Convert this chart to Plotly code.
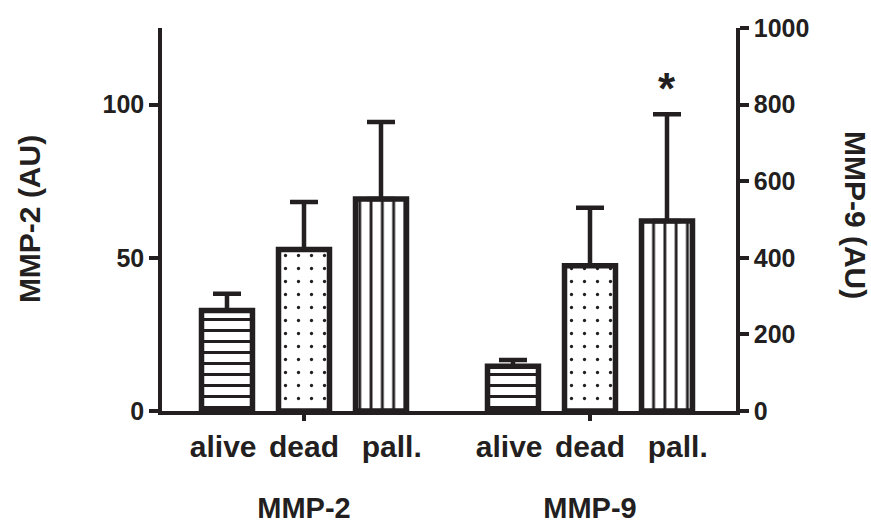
import plotly.graph_objects as go

# ---- data ----
groups = ["MMP-2", "MMP-9"]
categories = ["alive", "dead", "pall."]
mmp2_mean = [32.8, 52.7, 69.2]
mmp2_err = [5.5, 15.5, 25.1]
mmp9_mean = [117, 379, 496]
mmp9_err = [16, 152, 279]
mmp9_sig = ["", "", "*"]
left_ticks = [0, 50, 100]
right_ticks = [0, 200, 400, 600, 800, 1000]
left_title = "MMP-2 (AU)"
right_title = "MMP-9 (AU)"

# ---- style / layout ----
INK = "#231f20"
FAM = "Liberation Sans, Arial, sans-serif"
GROUP_STEP = 3.714
BAR_W = 0.662
XR = [-0.844, 6.61]
LABEL_NUDGE = [-0.05, 0.0, 0.14]   # small horizontal nudges of category labels (axis units)


def xpos(g):
    return [g * GROUP_STEP + i for i in range(len(categories))]


pattern = dict(
    shape=["-", ".", "|"],
    size=[11, 13, 11.3],
    solidity=[0.27, 0.05, 0.25],
    fgcolor=INK,
    bgcolor="white",
    fillmode="replace",
)

fig = go.Figure()
for g, (means, errs, yax) in enumerate([(mmp2_mean, mmp2_err, "y"), (mmp9_mean, mmp9_err, "y2")]):
    fig.add_trace(go.Bar(
        x=xpos(g), y=means, yaxis=yax, width=BAR_W,
        marker=dict(color="white", line=dict(color=INK, width=5.5), pattern=pattern),
        error_y=dict(type="data", symmetric=False, array=errs, arrayminus=[0] * len(errs),
                     color=INK, thickness=4.5, width=14),
        showlegend=False, hoverinfo="skip",
    ))

# dummy trace to host the group-tick axis
fig.add_trace(go.Scatter(x=[None], y=[None], xaxis="x2", yaxis="y", showlegend=False, hoverinfo="skip"))

annotations = []
px9 = xpos(1)
for i, s in enumerate(mmp9_sig):
    if s:
        annotations.append(dict(x=px9[i], y=mmp9_mean[i] + mmp9_err[i], xref="x", yref="y2",
                                text=s, showarrow=False, yanchor="middle", yshift=26,
                                font=dict(family=FAM, size=44, color=INK, weight="bold")))
annotations.append(dict(x=-0.2317, y=0.501, xref="paper", yref="paper", text=left_title,
                        textangle=-90, showarrow=False, xanchor="center", yanchor="middle",
                        font=dict(family=FAM, size=30, color=INK, weight="bold")))
annotations.append(dict(x=1.2073, y=0.512, xref="paper", yref="paper", text=right_title,
                        textangle=90, showarrow=False, xanchor="center", yanchor="middle",
                        font=dict(family=FAM, size=30, color=INK, weight="bold")))

axis_common = dict(showgrid=False, zeroline=False, showline=True, linecolor=INK, linewidth=3.5,
                   ticks="outside", ticklen=9, tickwidth=3.5, tickcolor=INK, automargin=False,
                   tickfont=dict(family=FAM, size=25, color=INK, weight="bold"))

label_x = [p + n for g in range(len(groups)) for p, n in zip(xpos(g), LABEL_NUDGE)]

fig.update_layout(
    width=871, height=523,
    margin=dict(l=162, r=135, t=28, b=112),
    paper_bgcolor="white", plot_bgcolor="white",
    barmode="overlay",
    xaxis=dict(range=XR, tickvals=label_x, ticktext=categories * 2, automargin=False,
               showgrid=False, zeroline=False, showline=True, linecolor=INK, linewidth=3.5,
               ticks="", tickfont=dict(family=FAM, size=30, color=INK, weight="bold"),
               ticklabelstandoff=6),
    xaxis2=dict(range=XR, overlaying="x", anchor="y", side="bottom", automargin=False,
                tickvals=[xpos(g)[1] for g in range(len(groups))], ticktext=groups,
                showgrid=False, zeroline=False, showline=False,
                ticks="outside", ticklen=9, tickwidth=3.5, tickcolor=INK,
                tickfont=dict(family=FAM, size=29, color=INK, weight="bold"),
                ticklabelstandoff=62),
    yaxis=dict(range=[0, 125], tickvals=left_ticks, **axis_common),
    yaxis2=dict(range=[0, 1000], tickvals=right_ticks, overlaying="y", side="right", anchor="x",
                **axis_common),
    annotations=annotations,
)

fig.write_html("out.html")
